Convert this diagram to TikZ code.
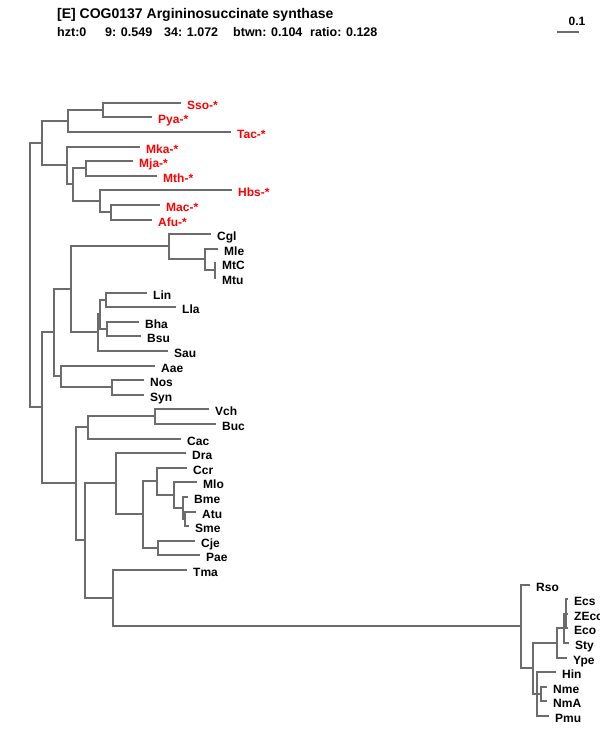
\documentclass[tikz,border=0pt]{standalone}
\usepackage{fontspec}
\setmainfont{Liberation Sans}
\definecolor{branch}{RGB}{108,108,108}
\definecolor{arch}{RGB}{255,0,0}
\begin{document}
\begin{tikzpicture}[x=1pt,y=-1pt,
  br/.style={draw=branch,line width=1.6pt},
  leaf/.style={anchor=base west,inner sep=0pt,font=\fontsize{12}{14}\selectfont\bfseries,xshift=6pt,yshift=-6.5pt},
  archleaf/.style={leaf,text=arch},
  ttl/.style={anchor=base west,inner sep=0pt,font=\fontsize{14}{16}\selectfont\bfseries},
  stat/.style={anchor=base west,inner sep=0pt,font=\fontsize{12.5}{15}\selectfont\bfseries},
  sbl/.style={anchor=base,inner sep=0pt,font=\fontsize{12}{14}\selectfont\bfseries}]
\fill[white] (0,0) rectangle (600,750);
\useasboundingbox (0,0) rectangle (600,750);

% title
\node[ttl] (t1) at (57,18) {[E] COG0137 Argininosuccinate synthase};
\node[stat] (t2) at (57,36) {hzt:0};
\node[stat] (t3) at (105,36) {9: 0.549};
\node[stat] (t4) at (164,36) {34: 1.072};
\node[stat] (t5) at (233,36) {btwn: 0.104};
\node[stat] (t6) at (310,36) {ratio: 0.128};
% scale bar
\coordinate (sb1) at (557,32);
\coordinate (sb2) at (579,32);
\draw[br] (sb1) -- (sb2);
\node[sbl] (sbt) at (577,25) {0.1};

% leaves
\coordinate (lSso) at (181,103);
\coordinate (lPya) at (152,117);
\coordinate (lTac) at (231,132);
\coordinate (lMka) at (140,147);
\coordinate (lMja) at (133,161);
\coordinate (lMth) at (157,176);
\coordinate (lHbs) at (232,190);
\coordinate (lMac) at (160,205);
\coordinate (lAfu) at (152,220);
\coordinate (lCgl) at (211,234);
\coordinate (lMle) at (218,249);
\coordinate (lMtC) at (216,263);
\coordinate (lMtu) at (216,278);
\coordinate (lLin) at (147,293);
\coordinate (lLla) at (176,307);
\coordinate (lBha) at (139,322);
\coordinate (lBsu) at (141,336);
\coordinate (lSau) at (168,351);
\coordinate (lAae) at (155,366);
\coordinate (lNos) at (144,380);
\coordinate (lSyn) at (144,395);
\coordinate (lVch) at (209,409);
\coordinate (lBuc) at (216,424);
\coordinate (lCac) at (181,439);
\coordinate (lDra) at (186,453);
\coordinate (lCcr) at (187,468);
\coordinate (lMlo) at (197,482);
\coordinate (lBme) at (188,497);
\coordinate (lAtu) at (196,512);
\coordinate (lSme) at (189,526);
\coordinate (lCje) at (195,541);
\coordinate (lPae) at (200,555);
\coordinate (lTma) at (187,570);
\coordinate (lRso) at (530,585);
\coordinate (lEcs) at (568,599);
\coordinate (lZEco) at (568,614);
\coordinate (lEco) at (568,628);
\coordinate (lSty) at (569,643);
\coordinate (lYpe) at (567,658);
\coordinate (lHin) at (556,672);
\coordinate (lNme) at (547,687);
\coordinate (lNmA) at (547,701);
\coordinate (lPmu) at (549,716);

% internal nodes
\coordinate (nSsoPya) at (103,110);
\coordinate (nCren) at (68,121);
\coordinate (nMjaMth) at (86,168);
\coordinate (nMacAfu) at (111,212);
\coordinate (nHbs) at (100,201);
\coordinate (nMeth) at (73,184);
\coordinate (nEury) at (67,165);
\coordinate (nArch) at (42,143);
\coordinate (nMtCMtu) at (215,270);
\coordinate (nMle) at (205,259);
\coordinate (nCgl) at (169,246);
\coordinate (nLinLla) at (106,300);
\coordinate (nBhaBsu) at (107,329);
\coordinate (nBac) at (100,314);
\coordinate (nSau) at (98,332);
\coordinate (nGram) at (71,289);
\coordinate (nNosSyn) at (112,387);
\coordinate (nAae) at (61,376);
\coordinate (nB1) at (54,332);
\coordinate (nVchBuc) at (155,416);
\coordinate (nCac) at (88,427);
\coordinate (nAtuSme) at (185,519);
\coordinate (nBme) at (183,508);
\coordinate (nMlo) at (174,495);
\coordinate (nCcr) at (157,481);
\coordinate (nCjePae) at (158,548);
\coordinate (nAlpha) at (143,514);
\coordinate (nDra) at (116,483);
\coordinate (nEcs) at (566,614);
\coordinate (nSty) at (564,628);
\coordinate (nYpe) at (557,643);
\coordinate (nNme) at (541,694);
\coordinate (nHin) at (537,694);
\coordinate (nGamma) at (533,668);
\coordinate (nRso) at (521,626);
\coordinate (nTma) at (113,598);
\coordinate (nB3) at (85,540);
\coordinate (nB2) at (76,483);
\coordinate (nBact) at (42,407);
\coordinate (nRoot) at (30,275);

% branches
\foreach \c/\p in {lSso/nSsoPya, lPya/nSsoPya, nSsoPya/nCren, lTac/nCren,
  lMja/nMjaMth, lMth/nMjaMth, lMac/nMacAfu, lAfu/nMacAfu, lHbs/nHbs, nMacAfu/nHbs,
  nMjaMth/nMeth, nHbs/nMeth, lMka/nEury, nMeth/nEury, nCren/nArch, nEury/nArch,
  lMtC/nMtCMtu, lMtu/nMtCMtu, lMle/nMle, nMtCMtu/nMle, lCgl/nCgl, nMle/nCgl,
  lLin/nLinLla, lLla/nLinLla, lBha/nBhaBsu, lBsu/nBhaBsu, nLinLla/nBac, nBhaBsu/nBac,
  nBac/nSau, lSau/nSau, nCgl/nGram, nSau/nGram,
  lNos/nNosSyn, lSyn/nNosSyn, lAae/nAae, nNosSyn/nAae, nGram/nB1, nAae/nB1,
  lVch/nVchBuc, lBuc/nVchBuc, nVchBuc/nCac, lCac/nCac,
  lAtu/nAtuSme, lSme/nAtuSme, lBme/nBme, nAtuSme/nBme, lMlo/nMlo, nBme/nMlo,
  lCcr/nCcr, nMlo/nCcr, lCje/nCjePae, lPae/nCjePae, nCcr/nAlpha, nCjePae/nAlpha,
  lDra/nDra, nAlpha/nDra,
  lEcs/nEcs, lZEco/nEcs, lEco/nEcs, nEcs/nSty, lSty/nSty, nSty/nYpe, lYpe/nYpe,
  lNme/nNme, lNmA/nNme, lHin/nHin, nNme/nHin, lPmu/nHin,
  nYpe/nGamma, nHin/nGamma, lRso/nRso, nGamma/nRso,
  lTma/nTma, nRso/nTma, nDra/nB3, nTma/nB3, nCac/nB2, nB3/nB2,
  nB1/nBact, nB2/nBact, nArch/nRoot, nBact/nRoot}
  {\draw[br] (\c) -| (\p);}

% labels
\node[archleaf] (tSso) at (lSso) {Sso-*};
\node[archleaf] (tPya) at (lPya) {Pya-*};
\node[archleaf] (tTac) at (lTac) {Tac-*};
\node[archleaf] (tMka) at (lMka) {Mka-*};
\node[archleaf] (tMja) at (lMja) {Mja-*};
\node[archleaf] (tMth) at (lMth) {Mth-*};
\node[archleaf] (tHbs) at (lHbs) {Hbs-*};
\node[archleaf] (tMac) at (lMac) {Mac-*};
\node[archleaf] (tAfu) at (lAfu) {Afu-*};
\node[leaf] (tCgl) at (lCgl) {Cgl};
\node[leaf] (tMle) at (lMle) {Mle};
\node[leaf] (tMtC) at (lMtC) {MtC};
\node[leaf] (tMtu) at (lMtu) {Mtu};
\node[leaf] (tLin) at (lLin) {Lin};
\node[leaf] (tLla) at (lLla) {Lla};
\node[leaf] (tBha) at (lBha) {Bha};
\node[leaf] (tBsu) at (lBsu) {Bsu};
\node[leaf] (tSau) at (lSau) {Sau};
\node[leaf] (tAae) at (lAae) {Aae};
\node[leaf] (tNos) at (lNos) {Nos};
\node[leaf] (tSyn) at (lSyn) {Syn};
\node[leaf] (tVch) at (lVch) {Vch};
\node[leaf] (tBuc) at (lBuc) {Buc};
\node[leaf] (tCac) at (lCac) {Cac};
\node[leaf] (tDra) at (lDra) {Dra};
\node[leaf] (tCcr) at (lCcr) {Ccr};
\node[leaf] (tMlo) at (lMlo) {Mlo};
\node[leaf] (tBme) at (lBme) {Bme};
\node[leaf] (tAtu) at (lAtu) {Atu};
\node[leaf] (tSme) at (lSme) {Sme};
\node[leaf] (tCje) at (lCje) {Cje};
\node[leaf] (tPae) at (lPae) {Pae};
\node[leaf] (tTma) at (lTma) {Tma};
\node[leaf] (tRso) at (lRso) {Rso};
\node[leaf] (tEcs) at (lEcs) {Ecs};
\node[leaf] (tZEco) at (lZEco) {ZEco};
\node[leaf] (tEco) at (lEco) {Eco};
\node[leaf] (tSty) at (lSty) {Sty};
\node[leaf] (tYpe) at (lYpe) {Ype};
\node[leaf] (tHin) at (lHin) {Hin};
\node[leaf] (tNme) at (lNme) {Nme};
\node[leaf] (tNmA) at (lNmA) {NmA};
\node[leaf] (tPmu) at (lPmu) {Pmu};
\end{tikzpicture}
\end{document}
